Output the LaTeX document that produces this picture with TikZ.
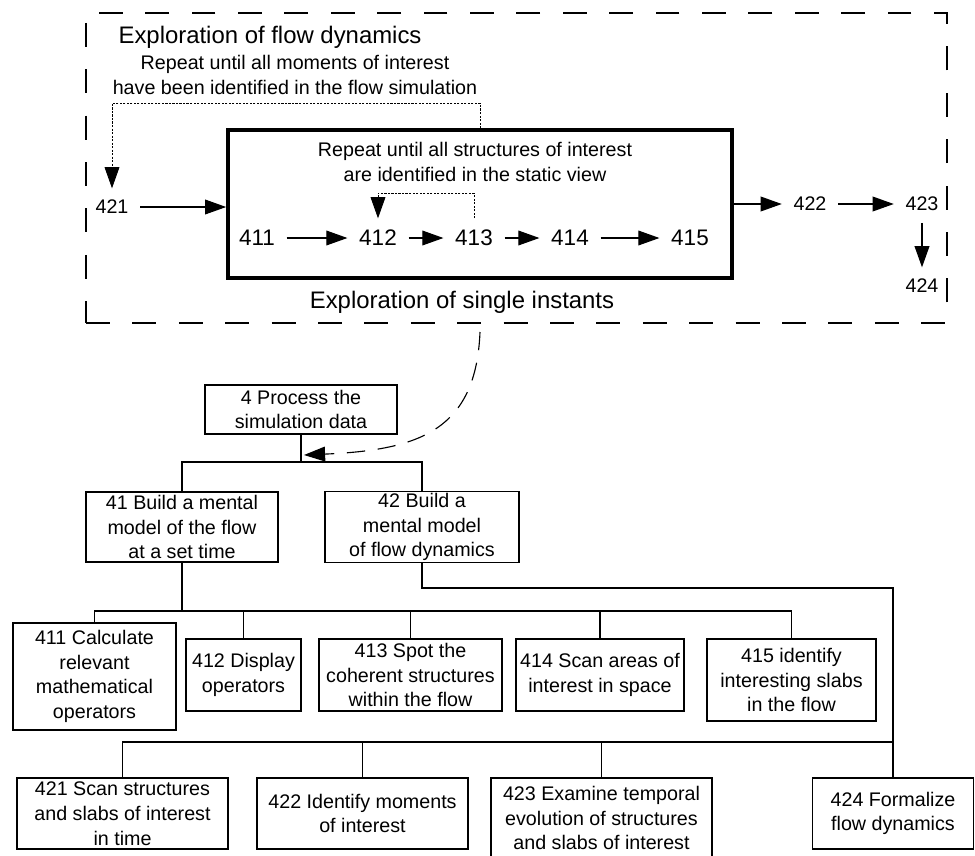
\documentclass[tikz,border=0pt]{standalone}
\usepackage{fontspec}
\setmainfont{Liberation Sans}
\usetikzlibrary{calc, positioning, arrows.meta}

\newcommand{\boxsize}{\fontsize{14}{17.6}\selectfont}
\newcommand{\numsize}{\fontsize{16}{19}\selectfont}
\newcommand{\headsize}{\fontsize{17}{21}\selectfont}

\begin{document}
\begin{tikzpicture}
                      [x=0.025cm, y=-0.025cm, line width=.8pt,
                       >={Triangle[length=15pt,width=10.5pt]},
                       task/.style 2 args={draw, rectangle, align=center, inner sep=1pt, font=\boxsize,
                                           minimum width=#1*0.025cm, minimum height=#2*0.025cm},
                       num/.style={inner sep=8pt, font=\boxsize},
                       bignum/.style={inner sep=8pt, font=\numsize},
                       loopline/.style={->, line width=.6pt, dash pattern=on 1.5pt off 1pt},
                       frame/.style={draw, dash pattern=on 17pt off 16pt, line width=.8pt}]
                      \useasboundingbox (0,0) rectangle (975,856);

                      % frames %
                      \node[frame, minimum width=861*0.025cm, minimum height=310*0.025cm] (dyn) at (516.5,168) {};
                      \node[draw, line width=2.6pt, minimum width=504*0.025cm, minimum height=148*0.025cm] (inst) at (480,204) {};

                      % labels %
                      \node[anchor=west, inner sep=0pt, font=\headsize] (ttl) at (118,37) {Exploration of flow dynamics};
                      \node[align=center, font=\boxsize] (rep1) at (295,75) {Repeat until all moments of interest\\have been identified in the flow simulation};
                      \node[align=center, font=\boxsize] (rep2) at (475,162) {Repeat until all structures of interest\\are identified in the static view};
                      \node[font=\headsize] (sub) at (462,302) {Exploration of single instants};

                      % steps %
                      \node[num] (t421) at (112,207) {421};
                      \node[bignum] (t411) at (257,238) {411};
                      \node[bignum] (t412) at (378,238) {412};
                      \node[bignum] (t413) at (474,238) {413};
                      \node[bignum] (t414) at (570,238) {414};
                      \node[bignum] (t415) at (690,238) {415};
                      \node[num] (t422) at (810,204) {422};
                      \node[num] (t423) at (922,204) {423};
                      \node[num] (t424) at (922,286) {424};

                      % tasks %
                      \node[task={192}{49}] (n4) at (301,409.5) {4 Process the\\simulation data};
                      \node[task={192}{70}] (n41) at (182,527) {41 Build a mental\\model of the flow\\at a set time};
                      \node[task={194}{70}] (n42) at (422,527) {42 Build a\\mental model\\of flow dynamics};
                      \node[task={163}{107}] (n411) at (94.5,676.5) {411 Calculate\\relevant\\mathematical\\operators};
                      \node[task={115}{72}] (n412) at (243.5,675) {412 Display\\operators};
                      \node[task={183}{72}] (n413) at (410.5,675) {413 Spot the\\coherent structures\\within the flow};
                      \node[task={168}{72}] (n414) at (600,675) {414 Scan areas of\\interest in space};
                      \node[task={169}{82}] (n415) at (791.5,680) {415 identify\\interesting slabs\\in the flow};
                      \node[task={211}{71}] (n421) at (122.5,813.5) {421 Scan structures\\and slabs of interest\\in time};
                      \node[task={211}{71}] (n422) at (362.5,813.5) {422 Identify moments\\of interest};
                      \node[task={221}{80}] (n423) at (601.5,818) {423 Examine temporal\\evolution of structures\\and slabs of interest};
                      \node[task={161}{71}] (n424) at (893,813.5) {424 Formalize\\flow dynamics};

                      \coordinate (c0) at (480,332);
                      \coordinate (c1) at (304,455);
                      \coordinate (j4) at (301,462);
                      \coordinate (j41) at (182,611);
                      \coordinate (k42) at (893,588);
                      \coordinate (j42) at (893,742);

                      % edges %
                      \draw[->] (t421.east) -- (t421.east -| inst.west);
                      \draw[->] (t411) -- (t412);
                      \draw[->] (t412) -- (t413);
                      \draw[->] (t413) -- (t414);
                      \draw[->] (t414) -- (t415);
                      \draw[->] (inst.east) -- (t422);
                      \draw[->] (t422) -- (t423);
                      \draw[->] (t423) -- (t424);
                      \draw[loopline] (inst.north) -- ++(0,-25) -| (t421.north);
                      \draw[loopline] (t413.north) -- ++(0,-25) -| (t412.north);
                      \draw[->, dash pattern=on 13pt off 9pt] (c0) .. controls (476,430) and (420,450) .. (c1);

                      % tree %
                      \draw (n4.south) -- (j4);
                      \draw[line width=1.3pt] (n41.north) |- (j4) -| (n42.north);
                      \draw (n41.south) -- (j41);
                      \draw (n411.north) |- (j41) -| (n415.north);
                      \foreach \n in {n412,n413,n414} \draw (j41 -| \n.north) -- (\n.north);
                      \draw (n42.south) |- (k42) -- (n424.north);
                      \draw (n421.north) |- (j42);
                      \foreach \n in {n422,n423} \draw (j42 -| \n.north) -- (\n.north);
                    \end{tikzpicture}
\end{document}
